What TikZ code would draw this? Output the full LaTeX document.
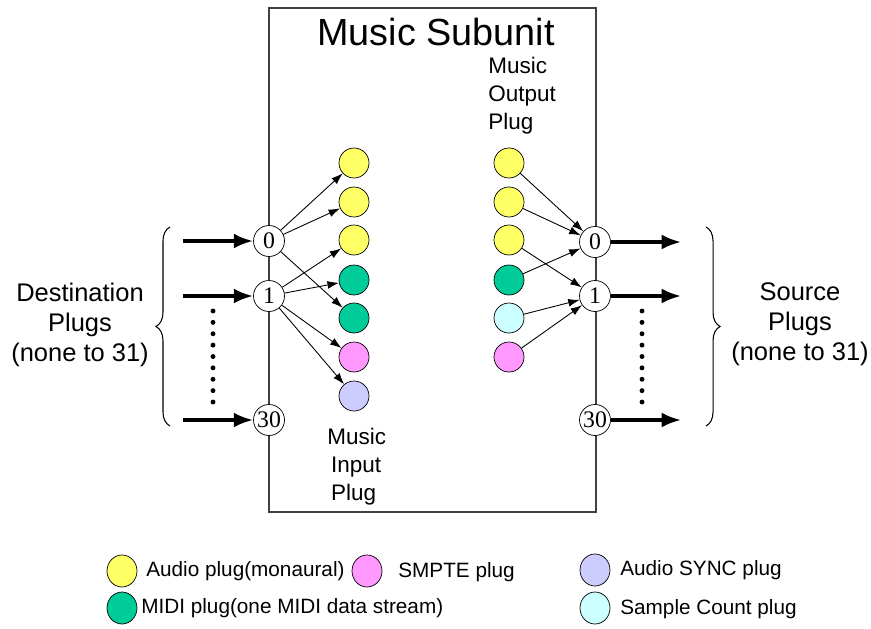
\documentclass[tikz,border=0pt]{standalone}
\usepackage{fontspec}
\setmainfont{Liberation Sans}
\newfontfamily\numfont{Liberation Serif}
\usetikzlibrary{arrows.meta,shapes.geometric,decorations.pathreplacing}
\definecolor{plugau}{HTML}{FFFF66}
\definecolor{plugmidi}{HTML}{00CC99}
\definecolor{plugsmpte}{HTML}{FF99FF}
\definecolor{plugsync}{HTML}{CCCCFF}
\definecolor{plugcnt}{HTML}{CCFFFF}

\begin{document}
\begin{tikzpicture}[x=0.02cm, y=-0.02cm,
        plug/.style={circle, draw, fill=white, minimum size=0.62cm, inner sep=0pt,
                     font=\numfont\fontsize{13.5}{13.5}\selectfont},
        mplug/.style={circle, draw, minimum size=0.6cm, inner sep=0pt},
        lplug/.style={ellipse, draw, minimum width=0.6cm, minimum height=0.64cm, inner sep=0pt},
        side/.style={align=center, font=\fontsize{14.5}{17}\selectfont},
        mlbl/.style={align=left, anchor=west, inner sep=0pt, font=\fontsize{12.8}{15.9}\selectfont},
        leg/.style={anchor=west, inner sep=0pt, font=\fontsize{11.8}{11.8}\selectfont},
        bigarrow/.style={line width=1.9pt, -{Latex[length=11pt,width=8.5pt]}},
        thinarrow/.style={line width=0.5pt, -{Latex[length=6.5pt,width=4.5pt]}},
        brc/.style={decorate, decoration={brace, amplitude=8pt}, line width=0.6pt}
    ]
    \useasboundingbox (0,0) rectangle (871,628);

    % Subunit box
    \draw[black!75, line width=0.6pt] (269,8) rectangle (596,512);
    \node[font=\fontsize{21.5}{21.5}\selectfont] (title) at (436,32) {Music Subunit};

    % ---- Destination plugs ----
    \node[plug] (in0)  at (269,241) {0};
    \node[plug] (in1)  at (269,296) {1};
    \node[plug] (in30) at (269,420) {30};
    \coordinate (d0)  at (183,241);
    \coordinate (d1)  at (183,296);
    \coordinate (d30) at (183,420);
    \draw[bigarrow] (d0) -- (in0);
    \draw[bigarrow] (d1) -- (in1);
    \draw[bigarrow] (d30) -- (in30);
    \foreach \i in {0,...,8}
        \fill (213,311+11.375*\i) circle (1.4pt);
    \draw[brc] (170,426) -- (170,227);
    \node[side] (dst) at (80,325) {Destination\\Plugs\\(none to 31)};

    % ---- Music input plugs ----
    \node[mplug, fill=plugau]    (mi1) at (354,163) {};
    \node[mplug, fill=plugau]    (mi2) at (354,202) {};
    \node[mplug, fill=plugau]    (mi3) at (354,240) {};
    \node[mplug, fill=plugmidi]  (mi4) at (354,280) {};
    \node[mplug, fill=plugmidi]  (mi5) at (354,318) {};
    \node[mplug, fill=plugsmpte] (mi6) at (354,357) {};
    \node[mplug, fill=plugsync]  (mi7) at (354,396) {};
    \node[mlbl] (milbl) at (327,467) {Music\\\,Input\\\,Plug};

    \draw[thinarrow] (in0) -- (mi1);
    \draw[thinarrow] (in0) -- (mi2);
    \draw[thinarrow] (in0) -- (mi5);
    \draw[thinarrow] (in1) -- (mi3);
    \draw[thinarrow] (in1) -- (mi4);
    \draw[thinarrow] (in1) -- (mi6);
    \draw[thinarrow] (in1) -- (mi7);

    % ---- Music output plugs ----
    \node[mplug, fill=plugau]    (mo1) at (509,163) {};
    \node[mplug, fill=plugau]    (mo2) at (509,202) {};
    \node[mplug, fill=plugau]    (mo3) at (509,240) {};
    \node[mplug, fill=plugmidi]  (mo4) at (509,280) {};
    \node[mplug, fill=plugcnt]   (mo5) at (509,318) {};
    \node[mplug, fill=plugsmpte] (mo6) at (509,357) {};
    \node[mlbl] (molbl) at (488,96) {Music\\Output\\Plug};

    % ---- Source plugs ----
    \node[plug] (out0)  at (595,242) {0};
    \node[plug] (out1)  at (595,296) {1};
    \node[plug] (out30) at (595,420) {30};

    \draw[thinarrow] (mo1) -- (out0);
    \draw[thinarrow] (mo2) -- (out0);
    \draw[thinarrow] (mo4) -- (out0);
    \draw[thinarrow] (mo3) -- (out1);
    \draw[thinarrow] (mo5) -- (out1);
    \draw[thinarrow] (mo6) -- (out1);

    \coordinate (s0)  at (681,242);
    \coordinate (s1)  at (681,296);
    \coordinate (s30) at (681,420);
    \draw[bigarrow] (out0) -- (s0);
    \draw[bigarrow] (out1) -- (s1);
    \draw[bigarrow] (out30) -- (s30);
    \foreach \i in {0,...,8}
        \fill (642,311+11.375*\i) circle (1.4pt);
    \draw[brc] (706,227) -- (706,426);
    \node[side] (src) at (800,324) {Source\\Plugs\\(none to 31)};

    % ---- Legend ----
    \node[lplug, fill=plugau]    (lau)    at (122,571) {};
    \node[leg] (tau) at (146,571) {Audio plug(monaural)};
    \node[lplug, fill=plugsmpte] (lsmpte) at (367,571) {};
    \node[leg] (tsmpte) at (398,572) {SMPTE plug};
    \node[lplug, fill=plugsync]  (lsync)  at (595,570) {};
    \node[leg] (tsync) at (620,570) {Audio SYNC plug};
    \node[lplug, fill=plugmidi]  (lmidi)  at (122,608) {};
    \node[leg] (tmidi) at (141,608) {MIDI plug(one MIDI data stream)};
    \node[lplug, fill=plugcnt]   (lcnt)   at (595,608) {};
    \node[leg] (tcnt) at (620,609) {Sample Count plug};
\end{tikzpicture}
\end{document}
